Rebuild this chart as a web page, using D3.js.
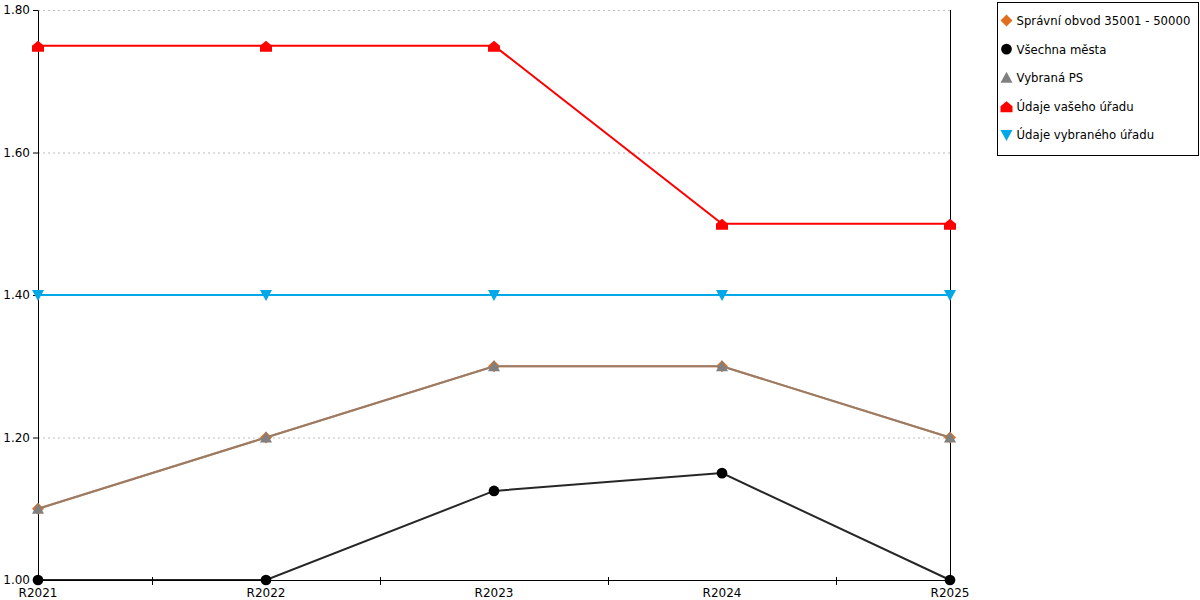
<!DOCTYPE html>
<html>
<head>
<meta charset="utf-8">
<script src="https://cdn.jsdelivr.net/npm/d3@7"></script>
<style>
  body { margin: 0; background: #fff; }
  text { font-family: "DejaVu Sans", Verdana, sans-serif; }
</style>
</head>
<body>
<div id="chart"></div>
<script>
// Data
const CATEGORIES = ["R2021", "R2022", "R2023", "R2024", "R2025"];
const Y_TICKS = [1.0, 1.2, 1.4, 1.6, 1.8];
const SPRAVNI_OBVOD = [1.1, 1.2, 1.3, 1.3, 1.2];
const VSECHNA_MESTA = [1.0, 1.0, 1.125, 1.15, 1.0];
const VYBRANA_PS = [1.1, 1.2, 1.3, 1.3, 1.2];
const VAS_URAD = [1.75, 1.75, 1.75, 1.5, 1.5];
const VYBRANY_URAD = [1.4, 1.4, 1.4, 1.4, 1.4];

const SERIES = [
  { name: "Správní obvod 35001 - 50000", values: SPRAVNI_OBVOD, color: "#e07020", marker: "diamond", opacity: 1 },
  { name: "Všechna města", values: VSECHNA_MESTA, color: "#000000", marker: "circle", opacity: 0.85 },
  { name: "Vybraná PS", values: VYBRANA_PS, color: "#808080", marker: "triangle", opacity: 0.75 },
  { name: "Údaje vašeho úřadu", values: VAS_URAD, color: "#ff0000", marker: "house", opacity: 1 },
  { name: "Údaje vybraného úřadu", values: VYBRANY_URAD, color: "#00a8e8", marker: "triangleDown", opacity: 1 },
];

const WIDTH = 1200, HEIGHT = 600;
const PLOT = { left: 38, right: 950, top: 10, bottom: 580 };

const svg = d3.select("#chart").append("svg")
  .attr("width", WIDTH).attr("height", HEIGHT);

const x = d3.scalePoint().domain(CATEGORIES).range([PLOT.left, PLOT.right]);
const y = d3.scaleLinear().domain([1.0, 1.8]).range([PLOT.bottom, PLOT.top]);

// Gridlines
svg.append("g").selectAll("line")
  .data(Y_TICKS.filter((d) => d > 1.0))
  .join("line")
  .attr("x1", PLOT.left).attr("x2", PLOT.right)
  .attr("y1", (d) => y(d) + 0.5).attr("y2", (d) => y(d) + 0.5)
  .attr("stroke", "#bbbbbb")
  .attr("stroke-dasharray", "2,3");

// Y axis (d3 adds its own half-pixel offset)
const yAxis = svg.append("g")
  .attr("transform", `translate(${PLOT.left},0)`)
  .call(d3.axisLeft(y).tickValues(Y_TICKS).tickFormat(d3.format(".2f")).tickSize(5).tickSizeOuter(0));
yAxis.select(".domain").attr("stroke", "#000");
yAxis.selectAll(".tick text").attr("font-size", 12).attr("fill", "#000").attr("x", -8);
yAxis.selectAll(".tick line").attr("stroke", "#000");

// X axis line + minor ticks between categories
svg.append("line")
  .attr("x1", PLOT.left).attr("x2", PLOT.right)
  .attr("y1", PLOT.bottom + 0.5).attr("y2", PLOT.bottom + 0.5)
  .attr("stroke", "#000");
const step = x.step();
svg.append("g").selectAll("line")
  .data(CATEGORIES.slice(0, -1))
  .join("line")
  .attr("x1", (d) => Math.round(x(d) + step / 2) + 0.5)
  .attr("x2", (d) => Math.round(x(d) + step / 2) + 0.5)
  .attr("y1", PLOT.bottom - 3).attr("y2", PLOT.bottom + 5)
  .attr("stroke", "#000");
svg.append("g").selectAll("text")
  .data(CATEGORIES)
  .join("text")
  .attr("x", (d) => x(d))
  .attr("y", PLOT.bottom + 17)
  .attr("text-anchor", "middle")
  .attr("font-size", 12)
  .text((d) => d);

// Right border
svg.append("line")
  .attr("x1", PLOT.right + 0.5).attr("x2", PLOT.right + 0.5)
  .attr("y1", PLOT.top).attr("y2", PLOT.bottom)
  .attr("stroke", "#000");

// Markers
function markerPath(type) {
  switch (type) {
    case "diamond": return "M0,-6L6,0L0,6L-6,0Z";
    case "circle": return d3.symbol(d3.symbolCircle, 90)();
    case "triangle": return "M0,-6L6,5L-6,5Z";
    case "triangleDown": return "M-6,-5L6,-5L0,6Z";
    case "house": return "M0,-5L6,0L6,6L-6,6L-6,0Z";
  }
}

const line = d3.line()
  .x((d, i) => x(CATEGORIES[i]))
  .y((d) => y(d));

SERIES.forEach((s) => {
  const g = svg.append("g");
  g.append("path")
    .attr("d", line(s.values))
    .attr("fill", "none")
    .attr("stroke", s.color)
    .attr("stroke-opacity", s.opacity)
    .attr("stroke-width", 2);
  g.selectAll("path.marker")
    .data(s.values)
    .join("path")
    .classed("marker", true)
    .attr("transform", (d, i) => `translate(${x(CATEGORIES[i])},${y(d)})`)
    .attr("d", markerPath(s.marker))
    .attr("fill", s.color);
});

// Legend
const legend = svg.append("g").attr("transform", "translate(997.5,2.5)");
legend.append("rect")
  .attr("width", 201).attr("height", 153)
  .attr("fill", "#fff").attr("stroke", "#000");
const item = legend.selectAll("g.item")
  .data(SERIES)
  .join("g")
  .classed("item", true)
  .attr("transform", (d, i) => `translate(9,${18 + i * 28.6})`);
item.append("path")
  .attr("d", (d) => markerPath(d.marker))
  .attr("fill", (d) => d.color);
item.append("text")
  .attr("x", 10)
  .attr("y", 4.5)
  .attr("font-size", 11.7)
  .text((d) => d.name);
</script>
</body>
</html>
